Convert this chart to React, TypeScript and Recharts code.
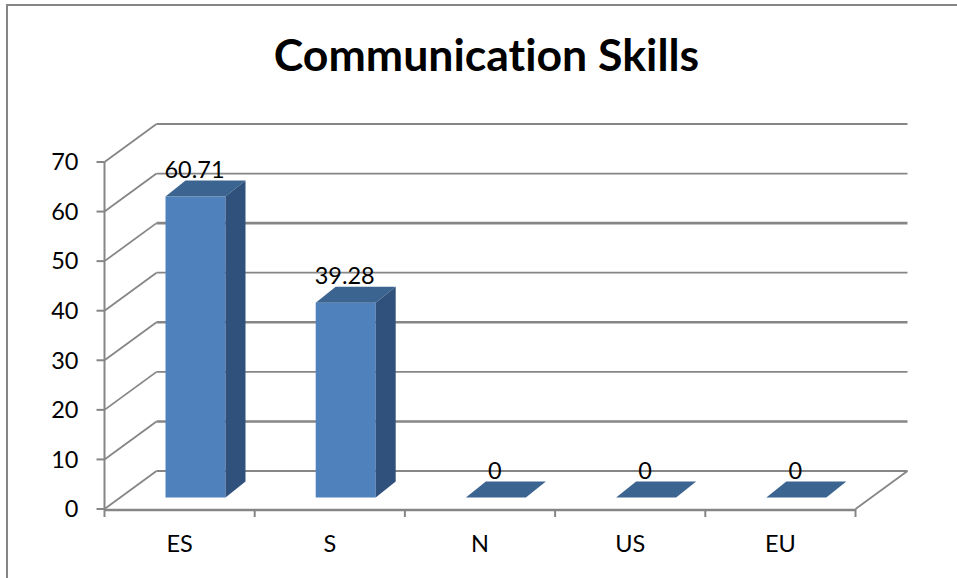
import React from 'react';
import { BarChart, Bar, XAxis, YAxis, CartesianGrid, LabelList } from 'recharts';

const categories = ['ES', 'S', 'N', 'US', 'EU'];
const values = [60.71, 39.28, 0, 0, 0];
const valueTicks = [0, 10, 20, 30, 40, 50, 60, 70];
const edgeTicks = [0, 1, 2, 3, 4, 5];

const data = categories.map((name, i) => ({ name, value: values[i], edge: edgeTicks[i + 1] }));

const FONT = 'Lato, sans-serif';
const AXIS_GREY = '#868686';
// the fake 3D: how far the back wall sits from the front plane
const WALL_DX = 52;
const WALL_DY = -38;
// bars stand partway into the floor
const BAR_DX = 16;
const BAR_DY = -11.5;
const TOP_DX = 20;
const TOP_DY = -16;

function WallLine(props: any) {
  const { x1, x2, y1, index } = props;
  const backY = y1 + WALL_DY;
  const isFloor = y1 > 500;
  // the scan of the original renders every other wall line heavier
  const weight = index % 2 === 1 && index < 6 ? 2.6 : 1.8;
  return (
    <g key={`wall-${y1}`} fill="none" stroke={AXIS_GREY}>
      <line x1={x1} y1={y1} x2={x1 + WALL_DX} y2={backY} strokeWidth={1.8} />
      <line x1={x1 + WALL_DX} y1={backY} x2={x2 + WALL_DX} y2={backY} strokeWidth={weight} />
      {isFloor && <line x1={x2} y1={y1} x2={x2 + WALL_DX} y2={backY} strokeWidth={1.8} />}
    </g>
  );
}

function Box3D(props: any) {
  const { x, y, width, height } = props;
  const left = x + BAR_DX;
  const right = left + width;
  const top = y + BAR_DY;
  const bottom = top + height;
  return (
    <g>
      <rect x={left} y={top} width={width} height={height} fill="#4F81BD" />
      <polygon
        points={`${left},${top} ${left + TOP_DX},${top + TOP_DY} ${right + TOP_DX},${top + TOP_DY} ${right},${top}`}
        fill="#3C6491"
      />
      {height > 0 && (
        <polygon
          points={`${right},${top} ${right + TOP_DX},${top + TOP_DY} ${right + TOP_DX},${bottom + TOP_DY} ${right},${bottom}`}
          fill="#30517B"
        />
      )}
    </g>
  );
}

function BoxLabel(props: any) {
  const { x, y, width, value } = props;
  return (
    <text x={x + width / 2 + BAR_DX - 1} y={y + BAR_DY - 19} textAnchor="middle" fontFamily={FONT} fontSize={23.5} fill="#000">
      {value}
    </text>
  );
}

export default function App() {
  return (
    <div style={{ position: 'absolute', left: 0, top: 0, width: 957, height: 578, background: '#fff', overflow: 'hidden' }}>
      <div style={{ position: 'absolute', left: 6, top: 4, right: 0, bottom: 0, borderLeft: `2px solid ${AXIS_GREY}`, borderTop: `2px solid ${AXIS_GREY}` }} />
      <div style={{ position: 'absolute', left: 0, top: 24, width: 973, textAlign: 'center', fontFamily: FONT, fontWeight: 700, fontSize: 44.6, lineHeight: '60px', color: '#000', fontVariantLigatures: 'none' }}>
        Communication Skills
      </div>
      <div style={{ position: 'absolute', left: 0, top: 0 }}>
        <BarChart width={957} height={578} data={data} margin={{ top: 162, right: 101.5, bottom: 0, left: 0 }} barSize={60}>
          <CartesianGrid xAxisId="z-cat" vertical={false} horizontal={WallLine as any} />
          <XAxis xAxisId="a-edges" dataKey="edge" type="number" domain={[0, 5]} allowDataOverflow ticks={edgeTicks} interval={0} orientation="bottom" height={1} tickFormatter={() => ''} axisLine={false} tickSize={8} tickLine={{ stroke: AXIS_GREY, strokeWidth: 2 }} />
          <XAxis
            xAxisId="z-cat"
            dataKey="name"
            height={68}
            tickLine={false}
            axisLine={{ stroke: AXIS_GREY, strokeWidth: 2.6 }}
            tick={{ fontFamily: FONT, fontSize: 23.5, fill: '#000' }}
            tickMargin={19}
          />
          <YAxis
            width={104.5}
            domain={[0, 70]}
            ticks={valueTicks}
            tickSize={8}
            tickMargin={18}
            tickLine={{ stroke: AXIS_GREY, strokeWidth: 2 }}
            axisLine={{ stroke: AXIS_GREY, strokeWidth: 2 }}
            tick={{ fontFamily: FONT, fontSize: 23.5, fill: '#000' }}
          />
          <Bar xAxisId="z-cat" dataKey="value" shape={Box3D as any} isAnimationActive={false}>
            <LabelList dataKey="value" content={BoxLabel as any} />
          </Bar>
        </BarChart>
      </div>
    </div>
  );
}
